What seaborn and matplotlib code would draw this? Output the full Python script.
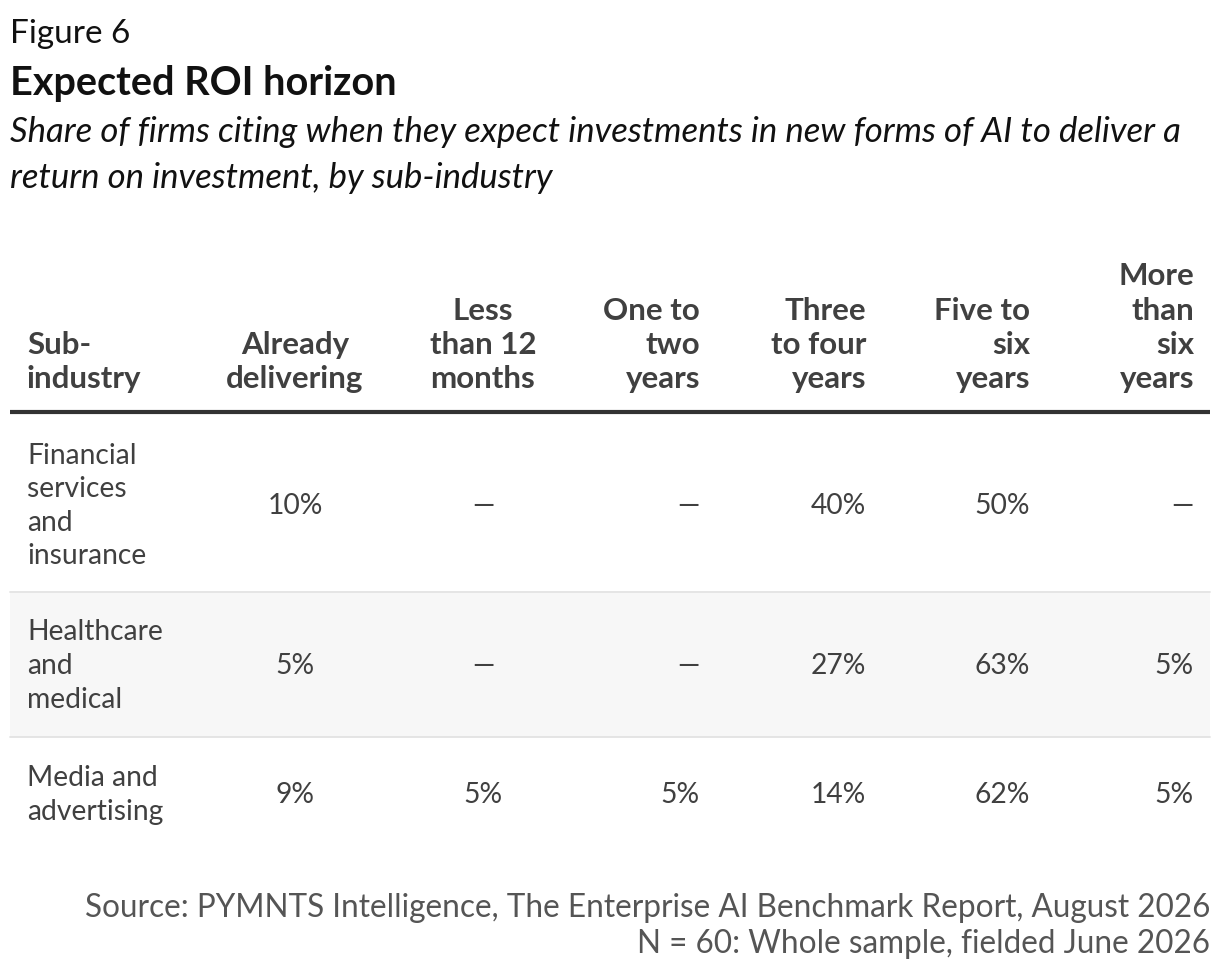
import matplotlib
matplotlib.use("Agg")
import matplotlib.pyplot as plt
import seaborn as sns

# table contents
sub_industries = ["Financial\nservices\nand\ninsurance", "Healthcare\nand\nmedical", "Media and\nadvertising"]
horizons = ["Already\ndelivering", "Less\nthan 12\nmonths", "One to\ntwo\nyears",
            "Three\nto four\nyears", "Five to\nsix\nyears", "More\nthan\nsix\nyears"]
financial = [10, None, None, 40, 50, None]
healthcare = [5, None, None, 27, 63, 5]
media = [9, 5, 5, 14, 62, 5]
values = [financial, healthcare, media]

sns.set_style("white")
plt.rcParams["font.family"] = ["Lato", "DejaVu Sans"]

W, H = 1220, 974
fig = plt.figure(figsize=(W / 100, H / 100), dpi=100)
ax = fig.add_axes([0, 0, 1, 1])
ax.set_xlim(0, W)
ax.set_ylim(H, 0)
ax.axis("off")

dark = "#404040"

# titles
ax.text(10, 34, "Figure 6", fontsize=24, color="#111111", va="center", ha="left")
ax.text(10, 83, "Expected ROI horizon", fontsize=28.5, fontweight="bold", color="#111111",
        va="center", ha="left")
ax.text(10, 155, "Share of firms citing when they expect investments in new forms of AI to deliver a\n"
        "return on investment, by sub-industry", fontsize=25, style="italic", color="#111111",
        va="center", ha="left", linespacing=1.5)

# column layout: (x anchor, alignment)
col_x = [295, 483, 700, 866, 1030, 1194]
col_ha = ["center", "center", "right", "right", "right", "right"]
row_top = [413, 593, 738]
row_bot = [592, 737, 852]
row_mid = [506, 666, 795]

header_base = 393
ax.text(27, header_base, "Sub-\nindustry", fontsize=22.5, fontweight="bold", color=dark,
        ha="left", va="bottom", linespacing=1.27)
for x, ha, lab in zip(col_x, col_ha, horizons):
    ax.text(x, header_base, lab, fontsize=22.5, fontweight="bold", color=dark,
            ha=ha, va="bottom", multialignment=ha, linespacing=1.27)

ax.plot([10, 1210], [412, 412], color="#333333", lw=3, solid_capstyle="butt")

# shaded middle row and separators
ax.fill_between([10, 1210], row_top[1], row_bot[1], color="#f7f7f7", lw=0)
for y in row_bot[:2]:
    ax.plot([10, 1210], [y, y], color="#e3e3e3", lw=1.3)

for label, vals, yc in zip(sub_industries, values, row_mid):
    ax.text(27, yc, label, fontsize=20.3, color=dark, ha="left", va="center", linespacing=1.36)
    for x, ha, v in zip(col_x, col_ha, vals):
        txt = "\u2014" if v is None else f"{v}%"
        ax.text(x, yc, txt, fontsize=20.3, color=dark, ha=ha, va="center")

ax.text(1210, 926, "Source: PYMNTS Intelligence, The Enterprise AI Benchmark Report, August 2026\n"
        "N = 60: Whole sample, fielded June 2026", fontsize=22.7, color="#555555",
        ha="right", va="center", multialignment="right", linespacing=1.24)

fig.savefig("out.png", dpi=100, facecolor="white")
